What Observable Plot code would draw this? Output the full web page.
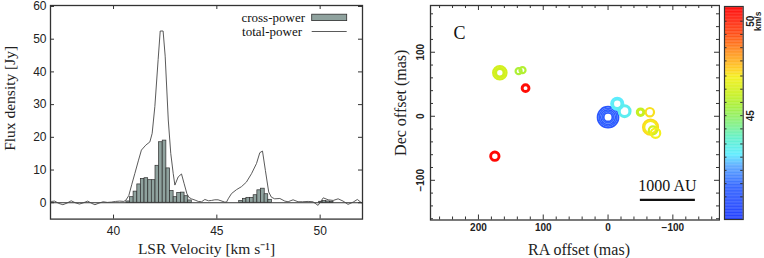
<!DOCTYPE html>
<html><head><meta charset="utf-8">
<script src="https://cdn.jsdelivr.net/npm/d3@7"></script>
<script src="https://cdn.jsdelivr.net/npm/@observablehq/plot@0.6"></script>
<style>
html,body{margin:0;padding:0;background:#fff;}
#wrap{position:relative;width:764px;height:258px;overflow:hidden;background:#fff;}
#wrap > .panel{position:absolute;top:0;}
#legend{position:absolute;left:0;top:0;}
</style></head><body>
<div id="wrap">
  <div class="panel" id="p1" style="left:0"></div>
  <div class="panel" id="p2" style="left:370px"></div>
  <div class="panel" id="p3" style="left:720px"></div>
  <svg id="legend" width="370" height="40"></svg>
</div>
<script>
// ---------- Spectrum (left panel) ----------
const tpVel  = [37.0,37.15,37.35,37.55,37.75,37.95,38.15,38.35,38.55,38.75,38.95,39.1,39.3,39.5,39.7,39.9,40.1,40.3,40.5,40.6,40.74,40.88,41.03,41.2,41.35,41.56,41.76,41.87,42.0,42.16,42.26,42.4,42.5,42.65,42.77,42.89,42.97,43.13,43.29,43.42,43.55,43.64,43.77,43.95,44.1,44.26,44.42,44.6,44.74,44.9,45.06,45.2,45.38,45.47,45.55,45.71,45.95,46.19,46.43,46.68,46.92,47.08,47.21,47.35,47.51,47.64,47.8,48.05,48.29,48.45,48.69,48.93,49.15,49.42,49.65,49.9,50.15,50.39,50.63,50.87,51.11,51.35,51.6,51.8,52.0];
const tpFlux = [0.4,0.5,-0.2,-0.6,-0.1,0.6,0.0,-0.4,0.0,0.5,-0.2,-0.6,-0.1,0.3,0.1,0.2,0.4,0.5,0.4,0.8,2.2,5.5,8.9,12.8,16.1,17.6,18.6,21.2,29.4,43.8,52.5,52.5,44.8,25.3,15.1,8.9,5.4,7.9,8.8,5.8,2.8,1.7,1.2,0.8,0.4,0.3,1.0,0.6,0.7,0.9,0.9,0.6,0.2,0.2,1.2,2.8,4.0,4.9,6.3,8.9,12.0,15.3,15.8,9.9,3.3,1.7,1.2,1.3,0.5,0.3,0.9,0.3,0.3,0.4,0.3,-0.8,1.5,0.9,0.7,1.2,0.5,-0.5,0.2,1.0,0.0];
const cpVel  = [40.71,40.89,41.06,41.24,41.41,41.59,41.77,41.94,42.12,42.29,42.47,42.65,42.82,43.00,43.17,43.35,43.53,43.70, 46.17,46.35,46.52,46.70,46.87,47.05,47.23,47.40,47.58, 50.04,50.21,50.39,50.56];
const cpFlux = [0.4,1.7,3.4,5.6,7.3,7.5,6.9,6.9,11.3,18.5,19.0,10.5,3.6,1.7,3.0,3.1,2.0,0.7, 0.5,1.2,1.5,1.5,2.3,3.8,4.3,2.6,0.9, 0.3,0.5,0.4,0.3];
const chanHalf = 0.088;
const specXTicks = [40,45,50];
const specYTicks = [0,10,20,30,40,50,60];
const specXLabel = "LSR Velocity [km s\u207B\u00B9]";
const specYLabel = "Flux density [Jy]";
const legendNames = ["cross-power","total-power"];

// ---------- Spot map (right panel) ----------
const ringRA   = [0,0,0,0,0, -14.2,-14.2, -25.5,-25.5, -50.2,-50.2, -64.5, -65.6,-65.6, -69.1, -73.3, 167,167,167, 138, 132, 127.3, 174.7];
const ringDec  = [-1.4,-1.4,-1.4,-1.4,-1.4, 19.5,19.5, 8,8, 6.4,6.4, 6.4, -17,-17, -22.2, -26.4, 68,68,68, 70.5, 72, 43.9, -62.3];
const ringVel  = [40.7,41.2,40.8,41.3,40.9, 42.9,43.1, 43.3,43.1, 45.9,46.1, 47.2, 47.3,47.1, 46.3, 47.0, 46.3,46.4,46.2, 45.6,45.7, 50.5,50.6];
const ringFlux = [19.1,16.2,13.3,10.4,7.8, 10.9,7.8, 10.7,8.9, 6.7,5.1, 7.6, 13.6,11.5, 7.3, 8.5, 12.2,9.1,6.9, 5.5,5.5, 6.2,7.6];
const mapXTicks = [200,100,0,-100];
const mapXMinor = [260,240,220,180,160,140,120,80,60,40,20,-20,-40,-60,-80,-120,-140,-160];
const mapYTicks = [100,0,-100];
const mapYMinor = [160,140,120,80,60,40,20,-20,-40,-60,-80,-120,-140,-160];
const scaleBarRA = [-49.1,-134];
const scaleBarDec = -130.5;
const scaleBarText = "1000 AU";
const panelLetter = "C";
const mapXLabel = "RA offset (mas)";
const mapYLabel = "Dec offset (mas)";

// ---------- Colour bar ----------
const cbDomain = [39.5, 50.78];
const cbTicks = [50.0,49.3,48.6,47.9,47.1,46.4,45.7,45.0,44.3,43.5,42.8,42.1,41.4,40.7];
const cbLabels = [50,45];
const cbUnit = "km/s";
const colorStops = [39.5,41.2,42.3,42.9,43.8,44.5,45.4,46.1,47.0,47.5,48.4,49.3,50.2,50.78];
const colorHex   = ["#1e3cff","#3062ff","#5aa8ff","#5cecff","#60f0c8","#80f084","#a4f040","#c8f020","#f4f01c","#ffc820","#ff8a1c","#ff4a12","#ff1a0c","#ff0000"];

// ---------- build ----------
const serif = "'Liberation Serif', 'Times New Roman', serif";
const sans = "'Liberation Sans', Arial, sans-serif";
const colorOpts = {type:"linear", domain: colorStops, range: colorHex, clamp: true};
const fmtMinus = d => d < 0 ? "\u2212" + Math.abs(d) : String(d);

const tp = tpVel.map((v,i) => ({v, f: tpFlux[i]}));
const cp = cpVel.map((v,i) => ({v, f: cpFlux[i]}));

// left panel
{
  const W = 370, H = 258, mL = 50, mR = 8, mT = 5, mB = 39.4;
  const fw = W - mL - mR, fh = H - mT - mB;
  const chart = Plot.plot({
    width: W, height: H, marginLeft: mL, marginRight: mR, marginTop: mT, marginBottom: mB,
    x: {domain: [36.95, 52.05]},
    y: {domain: [-5, 60.3]},
    style: {fontFamily: sans, fontSize: "11.5px", color: "#222", background: "white"},
    marks: [
      Plot.rect(cp, {x1: d => d.v - chanHalf, x2: d => d.v + chanHalf, y1: d => 0, y2: "f", fill: "#8fa29e", stroke: "#2e2e2e", strokeWidth: 0.7}),
      Plot.ruleY([0], {stroke: "#333", strokeWidth: 1}),
      Plot.line(tp, {x: "v", y: "f", stroke: "#474747", strokeWidth: 0.9}),
      Plot.frame({stroke: "#333", strokeWidth: 1.3}),
      Plot.tickX(specXTicks, {x: d => d, insetTop: fh - 4, stroke: "#333"}),
      Plot.tickX(specXTicks, {x: d => d, insetBottom: fh - 4, stroke: "#333"}),
      Plot.tickY(specYTicks, {y: d => d, insetRight: fw - 4, stroke: "#333"}),
      Plot.tickY(specYTicks, {y: d => d, insetLeft: fw - 4, stroke: "#333"}),
      Plot.axisX({ticks: specXTicks, tickSize: 0, tickPadding: 7, label: null, fontSize: 12}),
      Plot.axisY({ticks: specYTicks, tickSize: 0, tickPadding: 4, label: null, fontSize: 12}),
      Plot.text([specXLabel], {frameAnchor: "bottom", dy: 29.5, fontFamily: serif, fontSize: 15.5, fill: "#222", lineAnchor: "middle", textAnchor: "middle"}),
      Plot.text([specYLabel], {frameAnchor: "left", dx: -40, dy: -14, rotate: -90, fontFamily: serif, fontSize: 15.5, fill: "#222", lineAnchor: "middle", textAnchor: "middle"})
    ]
  });
  document.getElementById("p1").appendChild(chart);
}

// legend overlay for the spectrum
{
  const svg = d3.select("#legend");
  const rows = [{name: legendNames[0], y: 17.5, kind: "bar"}, {name: legendNames[1], y: 31.5, kind: "line"}];
  rows.forEach((r, i) => {
    svg.append("text").attr("x", i === 0 ? 305 : 302).attr("y", r.y).attr("dy", "0.35em")
      .attr("text-anchor", "end").attr("font-family", serif).attr("font-size", 13).attr("fill", "#111").text(r.name);
    if (r.kind === "bar") {
      svg.append("rect").attr("x", 311.7).attr("y", r.y - 3.3).attr("width", 35).attr("height", 6.4)
        .attr("fill", "#8fa29e").attr("stroke", "#2e2e2e").attr("stroke-width", 0.8);
    } else {
      svg.append("line").attr("x1", 311.7).attr("x2", 346.7).attr("y1", r.y).attr("y2", r.y)
        .attr("stroke", "#474747").attr("stroke-width", 0.9);
    }
  });
}

// right panel
{
  const rings = ringRA.map((ra,i) => ({ra, dec: ringDec[i], vel: ringVel[i], flux: ringFlux[i]}));
  const W = 350, H = 258, mL = 60, mR = 1, mT = 5, mB = 38.5;
  const fw = W - mL - mR, fh = H - mT - mB;
  const bar = [{x1: scaleBarRA[0], x2: scaleBarRA[1], y: scaleBarDec}];
  const chart = Plot.plot({
    width: W, height: H, marginLeft: mL, marginRight: mR, marginTop: mT, marginBottom: mB,
    x: {domain: [274, -172], axis: null},
    y: {domain: [-162, 173], axis: null},
    r: {type: "linear", domain: [0, 20], range: [0, 11]},
    color: colorOpts,
    style: {fontFamily: sans, fontSize: "10px", color: "#222", background: "white"},
    marks: [
      Plot.dot(rings, {filter: d => d.vel < 42, x: "ra", y: "dec", r: "flux", stroke: "vel", strokeWidth: 1.7, fill: "none", sort: null}),
      Plot.dot(rings, {filter: d => d.vel >= 42 && d.vel < 50, x: "ra", y: "dec", r: "flux", stroke: "vel", strokeWidth: 2.2, fill: "none", sort: null}),
      Plot.dot(rings, {filter: d => d.vel >= 50, x: "ra", y: "dec", r: "flux", stroke: "vel", strokeWidth: 2.9, fill: "none", sort: null}),
      Plot.link(bar, {x1: "x1", x2: "x2", y1: "y", y2: "y", stroke: "#111", strokeWidth: 2.4}),
      Plot.text(bar, {x: d => (d.x1 + d.x2) / 2, y: "y", text: () => scaleBarText, dy: -14, fontFamily: serif, fontSize: 16, fill: "#111", lineAnchor: "middle"}),
      Plot.text([panelLetter], {frameAnchor: "top-left", dx: 29, dy: 28, fontFamily: serif, fontSize: 18, fill: "#111", lineAnchor: "middle", textAnchor: "middle"}),
      Plot.frame({stroke: "#333", strokeWidth: 1.3}),
      Plot.tickX(mapXTicks, {x: d => d, insetTop: fh - 5, stroke: "#333"}),
      Plot.tickX(mapXTicks, {x: d => d, insetBottom: fh - 5, stroke: "#333"}),
      Plot.tickX(mapXMinor, {x: d => d, insetTop: fh - 3, stroke: "#333"}),
      Plot.tickX(mapXMinor, {x: d => d, insetBottom: fh - 3, stroke: "#333"}),
      Plot.tickY(mapYTicks, {y: d => d, insetRight: fw - 5, stroke: "#333"}),
      Plot.tickY(mapYTicks, {y: d => d, insetLeft: fw - 5, stroke: "#333"}),
      Plot.tickY(mapYMinor, {y: d => d, insetRight: fw - 3, stroke: "#333"}),
      Plot.tickY(mapYMinor, {y: d => d, insetLeft: fw - 3, stroke: "#333"}),
      Plot.text(mapXTicks, {x: d => d, text: d => fmtMinus(d), frameAnchor: "bottom", dy: 8, textAnchor: "middle", lineAnchor: "middle", fontSize: 10, fontWeight: "bold", fill: "#222"}),
      Plot.text(mapYTicks, {y: d => d, text: d => fmtMinus(d), frameAnchor: "left", dx: -10, rotate: -90, textAnchor: "middle", lineAnchor: "middle", fontSize: 10, fontWeight: "bold", fill: "#222"}),
      Plot.text([mapXLabel], {frameAnchor: "bottom", dy: 29.5, dx: 4, fontFamily: serif, fontSize: 16, fill: "#222", lineAnchor: "middle", textAnchor: "middle"}),
      Plot.text([mapYLabel], {frameAnchor: "left", dx: -30, dy: -10, rotate: -90, fontFamily: serif, fontSize: 16, fill: "#222", lineAnchor: "middle", textAnchor: "middle"})
    ]
  });
  document.getElementById("p2").appendChild(chart);
}

// colour bar
{
  const W = 44, H = 258, mL = 4, mR = 21.3, mT = 6, mB = 39;
  const fw = W - mL - mR;
  const steps = d3.range(cbDomain[0], cbDomain[1], 0.04);
  const chart = Plot.plot({
    width: W, height: H, marginLeft: mL, marginRight: mR, marginTop: mT, marginBottom: mB,
    y: {domain: cbDomain, axis: null},
    color: colorOpts,
    style: {fontFamily: sans, fontSize: "9px", color: "#222", background: "white", overflow: "visible"},
    marks: [
      Plot.rect(steps, {y1: d => d, y2: d => Math.min(d + 0.05, cbDomain[1]), fill: d => d}),
      Plot.frame({stroke: "#333", strokeWidth: 1.2}),
      Plot.tickY(cbTicks, {y: d => d, insetRight: fw - 2.5, stroke: "#333"}),
      Plot.tickY(cbTicks, {y: d => d, insetLeft: fw - 2.5, stroke: "#333"}),
      Plot.text(cbLabels, {y: d => d, text: d => String(d), frameAnchor: "right", dx: 8, rotate: -90, textAnchor: "middle", lineAnchor: "middle", fontSize: 10, fontWeight: "bold", fill: "#222"}),
      Plot.text([cbDomain[1]], {y: () => cbLabels[0], text: () => cbUnit, frameAnchor: "right", dx: 15.5, rotate: -90, textAnchor: "middle", lineAnchor: "middle", fontSize: 8.5, fontWeight: "bold", fill: "#222"})
    ]
  });
  document.getElementById("p3").appendChild(chart);
}
</script>
</body></html>
